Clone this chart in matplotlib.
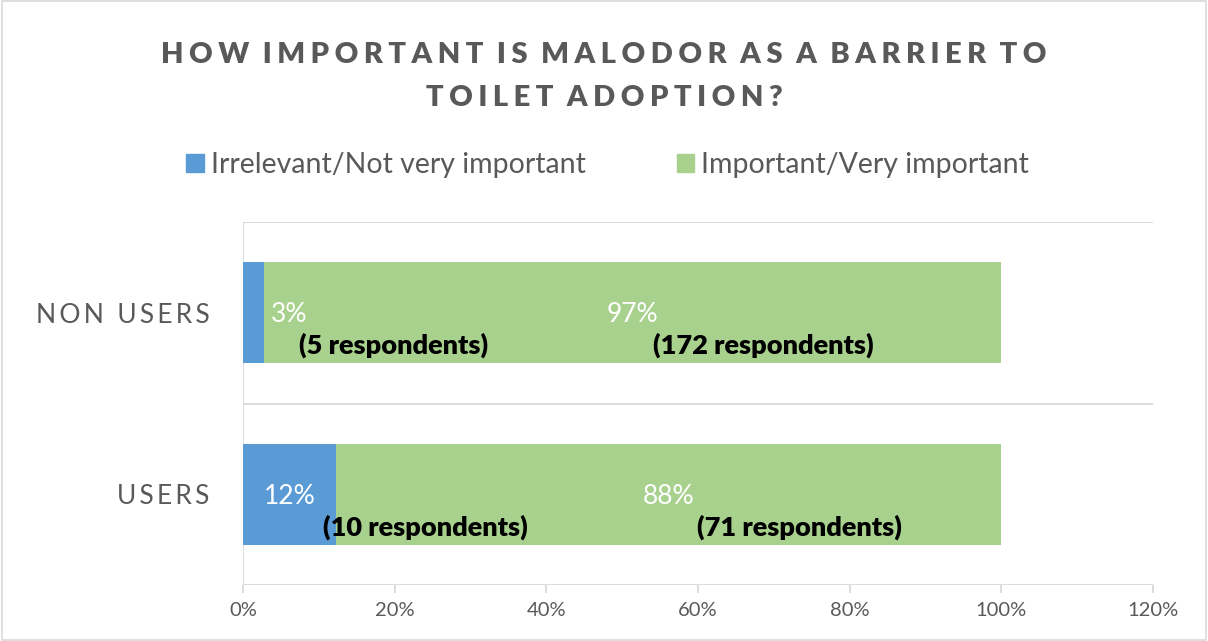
import numpy as np
import matplotlib.pyplot as plt
from matplotlib.patches import Rectangle

plt.rcParams['font.family'] = ['Lato', 'DejaVu Sans']

# data
groups = ['USERS', 'NON USERS']
not_important = [12.3, 2.8]
important = [87.7, 97.2]
n_not = [10, 5]
n_imp = [71, 172]
series_names = ['Irrelevant/Not very important', 'Important/Very important']
title_lines = ['HOW IMPORTANT IS MALODOR AS A BARRIER TO', 'TOILET ADOPTION?']

blue = '#5B9BD5'
green = '#A9D18E'
grey = '#595959'


def spaced(s, sep='\u2009'):
    # fake letter spacing
    return sep.join(list(s)).replace(sep + ' ' + sep, '  ')


fig = plt.figure(figsize=(12.08, 6.41), dpi=100)
ax = fig.add_axes([243 / 1208, 1 - 585 / 641, 910 / 1208, 363 / 641])

y = np.arange(len(groups))
ax.barh(y, not_important, height=0.555, color=blue, zorder=3)
ax.barh(y, important, left=not_important, height=0.555, color=green, zorder=3)

ax.set_xlim(0, 120)
ax.set_ylim(-0.5, 1.5)
ax.set_xticks(np.arange(0, 121, 20))
ax.set_xticklabels([f'{v}%' for v in range(0, 121, 20)])
ax.set_yticks(y)
ax.set_yticklabels([spaced(g) for g in groups])

# horizontal separators between categories
for yy in [-0.5, 0.5, 1.5]:
    ax.axhline(yy, color='#D9D9D9', lw=1.3, zorder=1)
for s in ax.spines.values():
    s.set_visible(False)
ax.axvline(0, color='#D9D9D9', lw=1.3, zorder=1)
ax.tick_params(axis='x', colors='#D9D9D9', length=6, width=1.3, direction='out',
               labelcolor=grey, labelsize=14.5, pad=6)
ax.tick_params(axis='y', length=0, labelcolor=grey, labelsize=19, pad=24)

# data labels
for i in range(len(groups)):
    a, b = not_important[i], important[i]
    if a < 5:
        ax.text(a + 0.9, i - 0.01, f'{round(a)}%', color='white', fontsize=19,
                ha='left', va='center', zorder=4)
        ax.text(a + 17, i - 0.18, f'({n_not[i]} respondents)', color='black',
                fontsize=19.5, fontweight='heavy', ha='center', va='center', zorder=4)
    else:
        ax.text(a / 2, i - 0.01, f'{round(a)}%', color='white', fontsize=19,
                ha='center', va='center', zorder=4)
        ax.text(a + 11.7, i - 0.18, f'({n_not[i]} respondents)', color='black',
                fontsize=19.5, fontweight='heavy', ha='center', va='center', zorder=4)
    ax.text(a + b / 2, i - 0.01, f'{round(b)}%', color='white', fontsize=19,
            ha='center', va='center', zorder=4)
    ax.text(a + b / 2 + 17.2, i - 0.18, f'({n_imp[i]} respondents)', color='black',
            fontsize=19.5, fontweight='heavy', ha='center', va='center', zorder=4)

# title
for k, line in enumerate(title_lines):
    fig.text(0.5, 1 - (55 + 43 * k) / 641, spaced(line, '\u2009\u200a'),
             ha='center', va='center', fontsize=21, fontweight='heavy', color=grey)

# legend
handles = [Rectangle((0, 0), 1, 1, color=blue), Rectangle((0, 0), 1, 1, color=green)]
fig.legend(handles, series_names, loc='center', bbox_to_anchor=(0.503, 1 - 165 / 641),
           ncol=2, frameon=False, fontsize=20.5, labelcolor=grey, handlelength=0.6,
           handleheight=0.6, handletextpad=0.25, columnspacing=3.2)

# outer border
fig.patches.append(Rectangle((0.002, 0.002), 0.996, 0.996, transform=fig.transFigure,
                             fill=False, edgecolor='#D9D9D9', lw=1.2))

fig.savefig('out.png', dpi=100)
